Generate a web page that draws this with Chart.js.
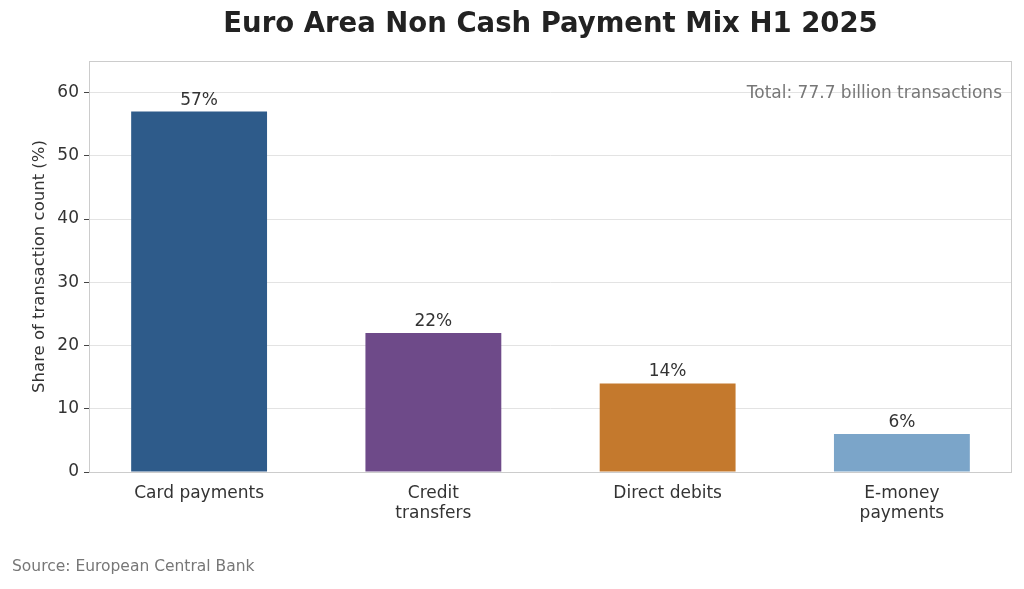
<!DOCTYPE html>
<html>
<head>
<meta charset="utf-8">
<script src="https://cdn.jsdelivr.net/npm/chart.js@4"></script>
<style>
  html, body { margin: 0; padding: 0; background: #fff; }
  #wrap { width: 1024px; height: 589px; position: relative; }
</style>
</head>
<body>
<div id="wrap"><canvas id="mix"></canvas></div>
<script>
const categories = [['Card payments'], ['Credit', 'transfers'], ['Direct debits'], ['E-money', 'payments']];
const shares = [57, 22, 14, 6];
const barColors = ['#2e5b8a', '#6e4a89', '#c4792d', '#7ba5c9'];
const yTicks = [0, 10, 20, 30, 40, 50, 60];
const titleText = 'Euro Area Non Cash Payment Mix H1 2025';
const totalNote = 'Total: 77.7 billion transactions';
const sourceNote = 'Source: European Central Bank';

const FONT = "'DejaVu Sans', sans-serif";
Chart.defaults.font.family = FONT;

// draws title, frame, value labels and notes
const extras = {
    id: 'extras',
    afterDraw(chart) {
        const ctx = chart.ctx;
        const a = chart.chartArea;
        ctx.save();
        ctx.strokeStyle = '#cccccc';
        ctx.lineWidth = 1;
        ctx.strokeRect(a.left + 0.5, a.top + 0.5, a.right - a.left - 1, a.bottom - a.top);

        ctx.fillStyle = '#222222';
        ctx.font = 'bold 27.5px ' + FONT;
        ctx.textAlign = 'center';
        ctx.textBaseline = 'middle';
        ctx.fillText(titleText, (a.left + a.right) / 2, 25);

        ctx.font = '17px ' + FONT;
        ctx.fillStyle = '#333333';
        ctx.textBaseline = 'bottom';
        chart.getDatasetMeta(0).data.forEach((bar, i) => {
            ctx.fillText(shares[i] + '%', bar.x, bar.y - 3);
        });

        const y = chart.scales.y;
        ctx.fillStyle = '#777777';
        ctx.textAlign = 'right';
        ctx.textBaseline = 'middle';
        ctx.fillText(totalNote, a.right - 10, y.getPixelForValue(60) + 1);

        ctx.font = '15.5px ' + FONT;
        ctx.textAlign = 'left';
        ctx.fillText(sourceNote, 12, 567);
        ctx.restore();
    }
};

new Chart(document.getElementById('mix'), {
    type: 'bar',
    data: {
        datasets: [{
            data: shares.map((v, i) => ({ x: i, y: v })),
            backgroundColor: barColors,
            barPercentage: 0.58,
            categoryPercentage: 1.0
        }]
    },
    options: {
        responsive: true,
        maintainAspectRatio: false,
        animation: false,
        layout: { padding: { top: 61, right: 12, left: 30, bottom: 0 } },
        plugins: { legend: { display: false }, tooltip: { enabled: false } },
        scales: {
            x: {
                type: 'linear',
                min: -0.47,
                max: 3.47,
                offset: false,
                afterFit: (scale) => { scale.height = 117; },
                afterBuildTicks: (scale) => { scale.ticks = categories.map((c, i) => ({ value: i })); },
                grid: { display: false, drawTicks: true, tickLength: 5, tickColor: '#444' },
                border: { display: false },
                ticks: {
                    color: '#333333', font: { size: 17 }, padding: 6, maxRotation: 0,
                    callback: (v) => categories[v]
                }
            },
            y: {
                min: 0,
                max: 65,
                afterFit: (scale) => { scale.width = 59; },
                afterBuildTicks: (scale) => { scale.ticks = yTicks.map(v => ({ value: v })); },
                grid: { color: '#e3e3e3', tickColor: '#444', tickLength: 5 },
                border: { display: false },
                ticks: { color: '#333333', font: { size: 17 }, padding: 5 },
                title: {
                    display: true,
                    text: 'Share of transaction count (%)',
                    color: '#333333',
                    font: { size: 16.5 },
                    padding: { top: 0, bottom: 6 }
                }
            }
        }
    },
    plugins: [extras]
});
</script>
</body>
</html>
